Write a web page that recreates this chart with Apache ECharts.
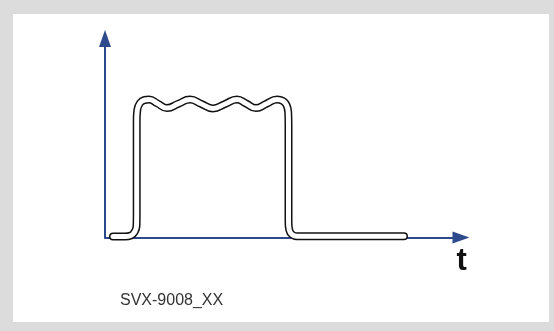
<!DOCTYPE html>
<html>
<head>
<meta charset="utf-8">
<style>
  html, body { margin: 0; padding: 0; background: #dcdcdc; }
  #chart { width: 554px; height: 331px; }
</style>
<script src="https://cdn.jsdelivr.net/npm/echarts@6/dist/echarts.min.js"></script>
</head>
<body>
<div id="chart"></div>
<script>
// Signal trace: time (x) and amplitude (y) samples of the pulse with a rippled top
const timeValues = [
  8, 20, 26, 29.5, 31.5, 31.7, 31.7, 32.3, 35, 39.5,
  44, 52.5, 62, 73.5, 85, 96.5, 108, 120, 132, 141,
  151, 161.5, 172, 178, 181.5, 183.2, 183.5, 183.5, 184.3, 187,
  192, 299
];
const amplitudeValues = [
  1, 1, 2, 5.5, 11.5, 22.5, 117.5, 127.5, 134.5, 137.5,
  138, 134, 129.5, 133.8, 138, 133.5, 129, 133.5, 138, 134,
  129.5, 133.8, 138, 136.5, 132.5, 125.5, 112.5, 15.5, 7.5, 3,
  1.2, 1.2
];
const axisName = 't';
const caption = 'SVX-9008_XX';

const trace = timeValues.map((t, i) => [t, amplitudeValues[i]]);
const axisColor = '#2c4a8c';

const chart = echarts.init(document.getElementById('chart'), null, { renderer: 'canvas' });

const axisCommon = {
  type: 'value',
  axisTick: { show: false },
  axisLabel: { show: false },
  splitLine: { show: false },
  axisLine: {
    show: true,
    symbol: ['none', 'triangle'],
    symbolSize: [12, 17],
    lineStyle: { color: axisColor, width: 2 }
  }
};

chart.setOption({
  animation: false,
  backgroundColor: '#dcdcdc',
  grid: { left: 105, right: 93, top: 38.5, bottom: 93.5 },
  xAxis: Object.assign({}, axisCommon, { min: 0, max: 356 }),
  yAxis: Object.assign({}, axisCommon, { min: 0, max: 199 }),
  graphic: [
    {
      type: 'rect', z: -10, silent: true,
      shape: { x: 13, y: 14, width: 536, height: 308 },
      style: { fill: '#ffffff' }
    },
    {
      type: 'text', silent: true,
      style: {
        x: 456.5, y: 277, text: axisName,
        font: 'bold 31px "Liberation Sans", Arial, sans-serif',
        fill: '#111111', textVerticalAlign: 'bottom'
      }
    },
    {
      type: 'text', silent: true,
      style: {
        x: 120, y: 309, text: caption,
        font: '16px "Liberation Sans", Arial, sans-serif',
        fill: '#333333', textVerticalAlign: 'bottom'
      }
    }
  ],
  series: [
    {
      type: 'line', data: trace, smooth: 0.5, showSymbol: false, silent: true,
      lineStyle: { color: '#111111', width: 8, cap: 'round', join: 'round' },
      z: 3
    },
    {
      type: 'line', data: trace, smooth: 0.5, showSymbol: false, silent: true,
      lineStyle: { color: '#ffffff', width: 5, cap: 'round', join: 'round' },
      z: 4
    }
  ]
});
</script>
</body>
</html>
